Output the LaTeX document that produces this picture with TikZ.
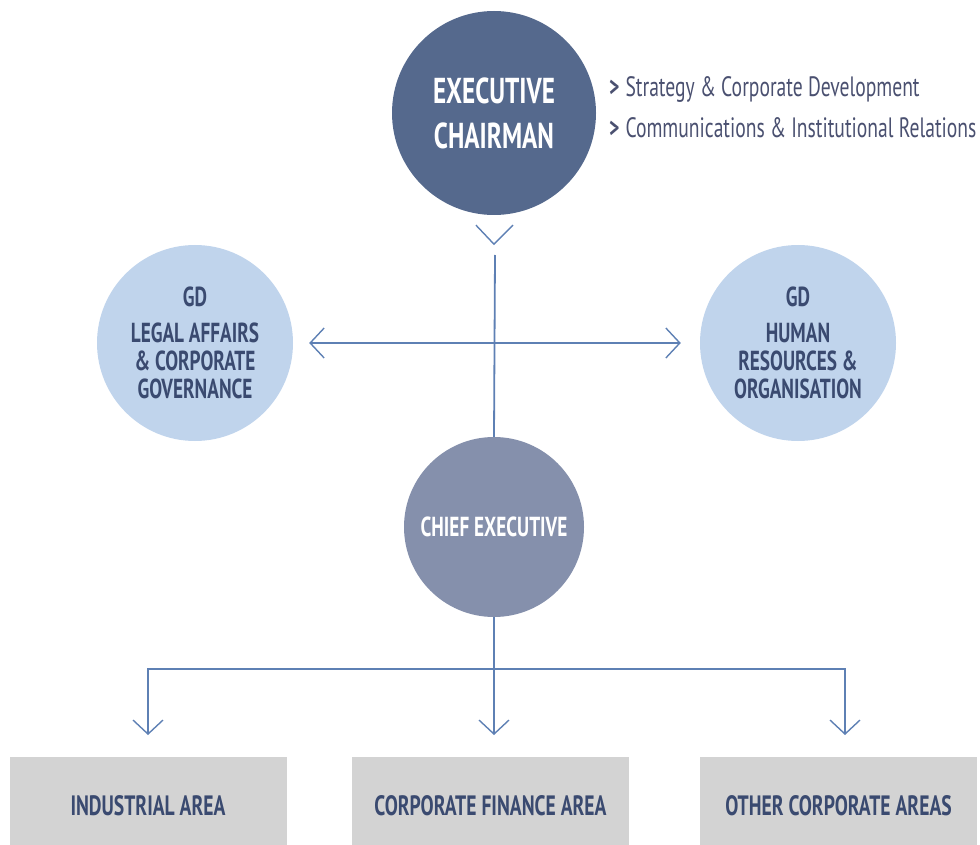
\documentclass[tikz,border=0pt]{standalone}
\usepackage{fontspec}
\newfontfamily\din[FakeStretch=0.7]{PT Sans}
\usetikzlibrary{arrows.meta,calc}
\definecolor{ecblue}{HTML}{55698D}
\definecolor{gdblue}{HTML}{C0D4EC}
\definecolor{ceblue}{HTML}{8590AC}
\definecolor{lineblue}{HTML}{5E80B4}
\definecolor{boxgray}{HTML}{D3D3D3}
\definecolor{txtnavy}{HTML}{3A4A70}
\definecolor{sidetxt}{HTML}{4A5070}
\tikzset{
  circ/.style={circle, inner sep=0pt, align=center},
  conn/.style={draw=lineblue, line width=1.8pt},
  barbtip/.tip={Straight Barb[length=14pt,width=30pt,line width=1.4pt]},
  chev/.style={draw=lineblue, line width=1.4pt},
  areabox/.style={fill=boxgray, minimum width=277pt, minimum height=88pt, inner sep=0pt,
    text height=28pt, text depth=0pt,
    text=txtnavy, font=\din\bfseries\fontsize{28}{30}\selectfont},
  sideline/.style={anchor=base west, inner sep=0pt, text=sidetxt, font=\din\fontsize{28}{30}\selectfont}
}
\begin{document}
\begin{tikzpicture}[x=1pt,y=-1pt]
\useasboundingbox (0,0) rectangle (980,845);
% circles
\node[circ, fill=ecblue, minimum size=204pt, text=white,
  font=\din\bfseries\fontsize{36}{45}\selectfont] (ec) at (494,113) {EXECUTIVE\\CHAIRMAN};
\node[circ, fill=gdblue, minimum size=196pt, text=txtnavy,
  font=\din\bfseries\fontsize{27.5}{28}\selectfont] (lgd) at (195,343)
  {GD\\[8pt]LEGAL AFFAIRS\\\& CORPORATE\\GOVERNANCE};
\node[circ, fill=gdblue, minimum size=196pt, text=txtnavy,
  font=\din\bfseries\fontsize{27.5}{28}\selectfont] (rgd) at (798,343)
  {GD\\[8pt]HUMAN\\RESOURCES \&\\ORGANISATION};
\node[circ, fill=ceblue, minimum size=180pt, text=white,
  font=\din\bfseries\fontsize{27.5}{28}\selectfont] (ce) at (494,527) {CHIEF EXECUTIVE};
% side text
\node[sideline] (s1) at (609,97) {{\bfseries >}\hspace{6pt}Strategy \& Corporate Development};
\node[sideline] (s2) at (609,138) {{\bfseries >}\hspace{6pt}Communications \& Institutional Relations};
% boxes
\node[areabox] (b1) at (148,801) {INDUSTRIAL AREA};
\node[areabox] (b2) at (490.5,801) {CORPORATE FINANCE AREA};
\node[areabox] (b3) at (838.5,801) {OTHER CORPORATE AREAS};
% coordinates
\coordinate (vtop) at (495,255);
\coordinate (hj) at (494,669);
\coordinate (t1) at (148,735);
\coordinate (t2) at (494,735);
\coordinate (t3) at (845,735);
\coordinate (cva) at ($(ec.south)+(-18,10)$);
\coordinate (cvb) at ($(ec.south)+(0,29)$);
\coordinate (cvc) at ($(ec.south)+(19,10)$);
% connectors
\draw[chev] (cva) -- (cvb) -- (cvc);
\draw[conn] (vtop) -- (ce.north);
\draw[conn, barbtip-barbtip, shorten <=16pt, shorten >=19pt] (lgd) -- (rgd);
\draw[conn] (ce.south) -- (hj);
\draw[conn, -barbtip] (hj) -| (t1);
\draw[conn, -barbtip] (hj) -- (t2);
\draw[conn, -barbtip] (hj) -| (t3);
\end{tikzpicture}
\end{document}
